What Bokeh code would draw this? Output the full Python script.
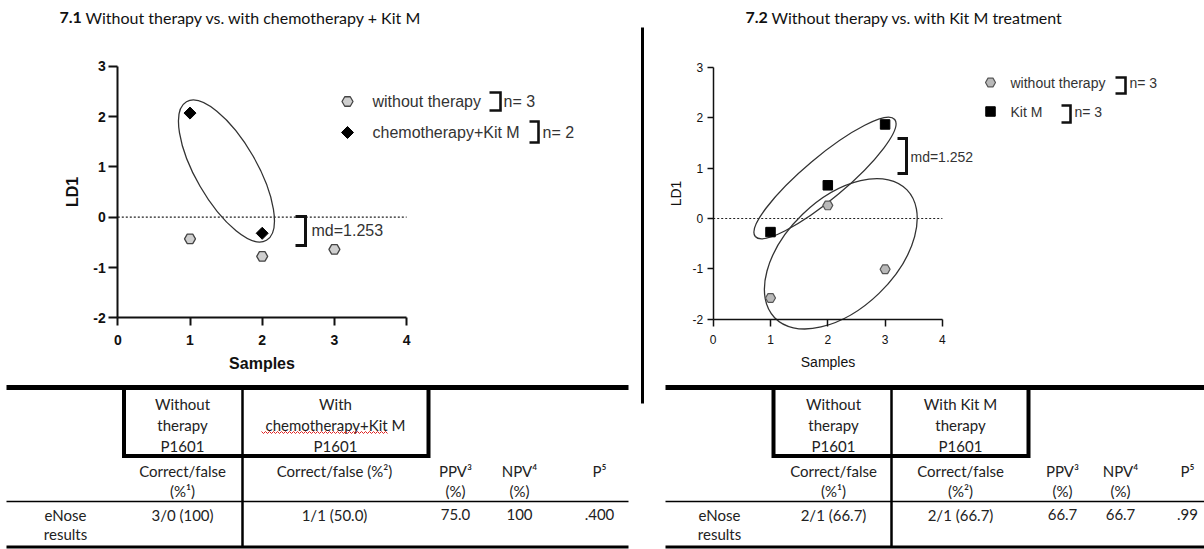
import numpy as np
from bokeh.plotting import figure
from bokeh.models import Range1d, LinearAxis, FixedTicker, CustomJSTickFormatter
from bokeh.core.properties import value
from bokeh.embed import file_html
from bokeh.resources import INLINE

# ---------------- data ----------------
x_ticks = [0, 1, 2, 3, 4]
y_ticks = [-2, -1, 0, 1, 2, 3]

# chart 7.1
c1_without_x = [1, 2, 3]
c1_without_ld1 = [-0.43, -0.78, -0.64]
c1_chemo_x = [1, 2]
c1_chemo_ld1 = [2.07, -0.32]

# chart 7.2
c2_without_x = [1, 2, 3]
c2_without_ld1 = [-1.58, 0.26, -1.01]
c2_kit_x = [1, 2, 3]
c2_kit_ld1 = [-0.27, 0.66, 1.87]

c1_legend = ["without therapy", "chemotherapy+Kit M"]
c1_n = ["n= 3", "n= 2"]
c2_legend = ["without therapy", "Kit M"]
c2_n = ["n= 3", "n= 3"]
c1_md = "md=1.253"
c2_md = "md=1.252"

title1_num, title1_text = "7.1", "Without therapy vs. with chemotherapy + Kit M"
title2_num, title2_text = "7.2", "Without therapy vs. with Kit M treatment"

t1_head = [["Without", "therapy", "P1601"], ["With", "chemotherapy+Kit M", "P1601"]]
t1_sub = [["Correct/false", "(%\u00b9)"], ["Correct/false (%\u00b2)"], ["PPV\u00b3", "(%)"], ["NPV\u2074", "(%)"], ["P\u2075"]]
t1_row = ["3/0 (100)", "1/1 (50.0)", "75.0", "100", ".400"]
t2_head = [["Without", "therapy", "P1601"], ["With Kit M", "therapy", "P1601"]]
t2_sub = [["Correct/false", "(%\u00b9)"], ["Correct/false", "(%\u00b2)"], ["PPV\u00b3", "(%)"], ["NPV\u2074", "(%)"], ["P\u2075"]]
t2_row = ["2/1 (66.7)", "2/1 (66.7)", "66.7", "66.7", ".99"]
row_label = ["eNose", "results"]

# ---------------- layout constants (page pixels) ----------------
W, H = 1204, 549
PX0, PX1, PY0, PY1 = 0, W, 0, H

# axis origin pixel and pixels per unit for each chart
C1 = dict(x0=117.3, sx=72.2, y0=216.7, sy=50.3)
C2 = dict(x0=712.7, sx=57.3, y0=218.0, sy=50.3)

p = figure(width=W, height=H, x_range=Range1d(PX0, PX1), y_range=Range1d(PY1, PY0),
           x_axis_type=None, y_axis_type=None, toolbar_location=None,
           output_backend="svg", min_border=0, outline_line_color=None, title=None)
p.background_fill_color = "white"

for name, c in (("c1", C1), ("c2", C2)):
    p.extra_x_ranges[name + "x"] = Range1d((PX0 - c["x0"]) / c["sx"], (PX1 - c["x0"]) / c["sx"])
    p.extra_y_ranges[name + "y"] = Range1d((c["y0"] - PY1) / c["sy"], (c["y0"] - PY0) / c["sy"])

SANS = "Liberation Sans"
LATO = "Lato"


def add_axes(name, bold, tick_fs, label_fs, lw, xt_out, yt_out, x_stand, y_stand, x_lab, y_lab):
    xa = LinearAxis(x_range_name=name + "x", y_range_name=name + "y", fixed_location=y_ticks[0],
                    bounds=(x_ticks[0], x_ticks[-1]), ticker=FixedTicker(ticks=x_ticks),
                    formatter=CustomJSTickFormatter(code="return tick.toString();"), axis_label="Samples")
    ya = LinearAxis(x_range_name=name + "x", y_range_name=name + "y", fixed_location=x_ticks[0],
                    bounds=(y_ticks[0], y_ticks[-1]), ticker=FixedTicker(ticks=y_ticks),
                    formatter=CustomJSTickFormatter(code="return tick.toString();"), axis_label="LD1")
    for a, tout, st, ls in ((xa, xt_out, x_stand, x_lab), (ya, yt_out, y_stand, y_lab)):
        a.axis_line_width = lw
        a.axis_line_color = "#111111"
        a.major_tick_line_width = lw
        a.major_tick_line_color = "#111111"
        a.major_tick_in = 0
        a.major_tick_out = tout
        a.minor_tick_line_color = None
        a.major_label_standoff = st
        a.major_label_text_font = SANS
        a.major_label_text_font_size = tick_fs
        a.major_label_text_font_style = "bold" if bold else "normal"
        a.major_label_text_color = "#111111"
        a.axis_label_text_font = SANS
        a.axis_label_text_font_size = label_fs
        a.axis_label_text_font_style = "bold" if bold else "normal"
        a.axis_label_text_color = "#111111"
        a.axis_label_standoff = ls
    p.add_layout(xa, "below")
    p.add_layout(ya, "left")


add_axes("c1", True, "14px", "16px", 2, 8, 9, 9, 3, 7, 9)
add_axes("c2", False, "12px", "14px", 1.5, 7, 6, 9, 4, 6, 6)

# zero dotted lines
for name in ("c1", "c2"):
    p.line([x_ticks[0], x_ticks[-1]], [0, 0], x_range_name=name + "x", y_range_name=name + "y",
           line_color="#222222", line_width=1.2, line_dash="2 2")

# ellipses (screen sized)
p.ellipse(x=[1.505], y=[0.918], width=[160], height=[61], angle=[np.deg2rad(-60)],
          width_units="screen", height_units="screen", x_range_name="c1x", y_range_name="c1y",
          fill_color=None, line_color="#333333", line_width=1.3)
p.ellipse(x=[1.951, 2.227], y=[0.805, -0.702], width=[182, 184], height=[42, 110],
          angle=[np.deg2rad(40), np.deg2rad(44)],
          width_units="screen", height_units="screen", x_range_name="c2x", y_range_name="c2y",
          fill_color=None, line_color="#333333", line_width=1.3)

# points chart 1
p.scatter(c1_without_x, c1_without_ld1, marker="hex", size=11, fill_color="#cfcfcf",
          line_color="#444444", line_width=1.3, x_range_name="c1x", y_range_name="c1y")
p.scatter(c1_chemo_x, c1_chemo_ld1, marker="square", angle=np.pi / 4, size=8.5, fill_color="black",
          line_color="black", x_range_name="c1x", y_range_name="c1y")
# points chart 2
p.scatter(c2_without_x, c2_without_ld1, marker="hex", size=10, fill_color="#b9b9b9",
          line_color="#555555", line_width=1.2, x_range_name="c2x", y_range_name="c2y")
p.scatter(c2_kit_x, c2_kit_ld1, marker="square", size=9.5, fill_color="black",
          line_color="black", x_range_name="c2x", y_range_name="c2y")


# ---------------- legends (page pixels) ----------------
def txt(xs, ys, texts, size, font=SANS, align="left", color="#333333", style="normal"):
    p.text(x=xs, y=ys, text=texts, text_font=value(font), text_font_size=size, text_align=align,
           text_baseline="middle", text_color=color, text_font_style=style)


def bracket(xl, xr, yt, yb, lw=2.6):
    p.line([xl, xr, xr, xl], [yt, yt, yb, yb], line_color="#111111", line_width=lw, line_join="miter")


# chart 1 legend
p.scatter([347], [101], marker="hex", size=11, fill_color="#cfcfcf", line_color="#444444", line_width=1.3)
p.scatter([347], [132], marker="square", angle=np.pi / 4, size=8.5, fill_color="black", line_color="black")
txt([372, 372], [101, 132], c1_legend, "16px")
bracket(489, 500, 92, 110)
bracket(529, 538, 121, 142)
txt([503, 542], [101, 132], c1_n, "16px")
bracket(295, 305, 216, 245, 3)
txt([311], [230], [c1_md], "16px")

# chart 2 legend
p.scatter([990], [82], marker="hex", size=10, fill_color="#b9b9b9", line_color="#555555", line_width=1.2)
p.scatter([990], [111], marker="square", size=9.5, fill_color="black", line_color="black")
txt([1010, 1010], [82, 111], c2_legend, "14px")
bracket(1115, 1125, 77, 93)
bracket(1061, 1070, 105, 122)
txt([1129, 1074], [82, 111], c2_n, "14px")
bracket(897, 906, 138, 173, 3)
txt([910], [156], [c2_md], "14px")

# ---------------- titles ----------------
txt([59], [17], [title1_num], "16px", font=LATO, color="#111111", style="bold")
txt([85], [17], [title1_text], "16px", font=LATO, color="#111111")
txt([745], [17], [title2_num], "16px", font=LATO, color="#111111", style="bold")
txt([771], [17], [title2_text], "16px", font=LATO, color="#111111")

# divider
p.line([642, 642], [27, 403], line_color="black", line_width=3)


# ---------------- tables ----------------
def table(x_left, x_right, box_l, box_r, div_x, head_cx, col_cx, label_cx, head, sub, row):
    p.line([x_left, x_right], [387, 387], line_color="black", line_width=5)
    p.line([x_left, x_right], [501, 501], line_color="black", line_width=1.5)
    p.line([x_left, x_right], [546.5, 546.5], line_color="black", line_width=3)
    p.line([box_l, box_l, box_r, box_r], [387, 455.5, 455.5, 387], line_color="black", line_width=4,
           line_join="miter")
    p.line([div_x, div_x], [387, 546], line_color="black", line_width=2.5)
    for cx, lines in zip(head_cx, head):
        txt([cx] * len(lines), [403 + 21 * i for i in range(len(lines))], lines, "15px", font=LATO,
            align="center", color="#222222")
    for cx, lines in zip(col_cx, sub):
        txt([cx] * len(lines), [470 + 20 * i for i in range(len(lines))], lines, "15px", font=LATO,
            align="center", color="#222222")
    txt([label_cx] * 2, [514, 533], row_label, "15px", font=LATO, align="center", color="#222222")
    txt(col_cx, [514] * len(row), row, "15px", font=LATO, align="center", color="#222222")


table(6, 628, 123.5, 428, 242, [182, 335], [182, 334, 455, 519, 599], 65, t1_head, t1_sub, t1_row)
table(665, 1204, 773, 1028, 891, [833, 960], [833, 960, 1062, 1120, 1187], 719, t2_head, t2_sub, t2_row)

# red spell-check squiggle under "chemotherapy+Kit"
sq_x = np.arange(261, 389, 2)
sq_y = 432 + np.where(np.arange(len(sq_x)) % 2 == 0, -1.0, 1.0)
p.line(sq_x, sq_y, line_color="#e02020", line_width=1)

open("out.html", "w").write(file_html(p, INLINE))
